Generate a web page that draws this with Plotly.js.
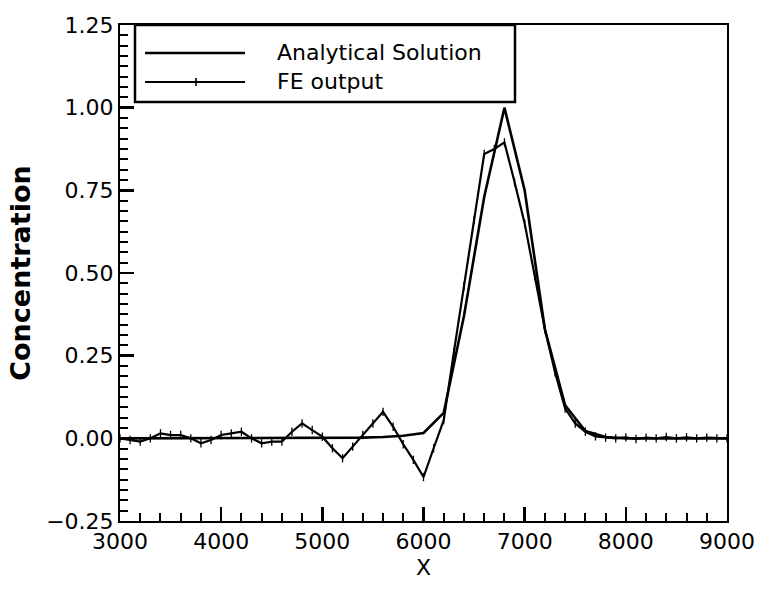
<!DOCTYPE html>
<html>
<head>
<meta charset="utf-8">
<script src="https://cdn.plot.ly/plotly-3.0.1.min.js"></script>
<style>html,body{margin:0;padding:0;background:#fff;}#chart{width:762px;height:590px;}</style>
</head>
<body>
<div id="chart"></div>
<script>
// Analytical solution (x step 200)
var xAnalytical = [3000,3200,3400,3600,3800,4000,4200,4400,4600,4800,5000,5200,5400,5600,5800,6000,6200,6400,6600,6800,7000,7200,7400,7600,7800,8000,8200,8400,8600,8800,9000];
var yAnalytical = [0,0,0,0,0,0,0,0,0,0,0,0.001,0.002,0.004,0.008,0.016,0.077,0.37,0.73,1.0,0.75,0.33,0.1,0.022,0.004,0,0,0,0,0,0];

// FE output (x step 100)
var xFE = [3000,3100,3200,3300,3400,3500,3600,3700,3800,3900,4000,4100,4200,4300,4400,4500,4600,4700,4800,4900,5000,5100,5200,5300,5400,5500,5600,5700,5800,5900,6000,6100,6200,6300,6400,6500,6600,6700,6800,6900,7000,7100,7200,7300,7400,7500,7600,7700,7800,7900,8000,8100,8200,8300,8400,8500,8600,8700,8800,8900,9000];
var yFE = [0,-0.005,-0.01,0,0.015,0.01,0.01,0,-0.015,-0.005,0.01,0.015,0.02,0,-0.015,-0.01,-0.01,0.02,0.045,0.025,0.005,-0.03,-0.06,-0.025,0.01,0.045,0.08,0.035,-0.018,-0.065,-0.117,-0.03,0.055,0.26,0.46,0.66,0.86,0.875,0.895,0.775,0.65,0.49,0.33,0.2,0.09,0.045,0.02,0.006,0.002,0,0.003,-0.002,0.002,0,0.004,0,0.003,0,0.002,0,0];

var legendLabels = ['Analytical Solution', 'FE output'];

var FONT = 'DejaVu Sans, Verdana, sans-serif';

var traces = [
  {x: xAnalytical, y: yAnalytical, mode: 'lines', name: legendLabels[0],
   line: {color: '#000', width: 2.6}, showlegend: false},
  {x: xFE, y: yFE, mode: 'lines+markers', name: legendLabels[1],
   line: {color: '#000', width: 2.2},
   marker: {symbol: 'line-ns', size: 6, color: '#000', line: {color: '#000', width: 1.3}},
   showlegend: false},
  // transparent copy on the overlay axes so that the minor-tick axes are drawn
  {x: xAnalytical, y: yAnalytical, xaxis: 'x2', yaxis: 'y2', mode: 'lines',
   line: {color: 'rgba(0,0,0,0)', width: 0.1}, hoverinfo: 'skip', showlegend: false}
];

// legend drawn in paper space (plot area 120..727 x 25..521 px)
function px(x){ return (x-120)/607; }
function py(y){ return (521-y)/496; }

var layout = {
  width: 762, height: 590,
  margin: {l: 120, r: 35, t: 25, b: 69},
  paper_bgcolor: '#fff', plot_bgcolor: 'rgba(0,0,0,0)',
  font: {family: FONT, color: '#000', size: 22},
  showlegend: false,
  xaxis: {
    range: [3000, 9000], tickmode: 'linear', tick0: 3000, dtick: 1000, tickformat: 'd',
    showgrid: false, zeroline: false,
    showline: true, linecolor: 'black', linewidth: 2, mirror: true,
    ticks: 'inside', ticklen: 14, tickwidth: 2.5, tickcolor: 'black',
    tickfont: {family: FONT, size: 22, color: '#000'},
    title: {text: 'X', font: {family: FONT, size: 22, color: '#000'}, standoff: 6}
  },
  yaxis: {
    range: [-0.25, 1.25], tickmode: 'linear', tick0: -0.25, dtick: 0.25, tickformat: '.2f',
    showgrid: false, zeroline: false,
    showline: true, linecolor: 'black', linewidth: 2, mirror: true,
    ticks: 'inside', ticklen: 14, tickwidth: 2.5, tickcolor: 'black',
    tickfont: {family: FONT, size: 22, color: '#000'},
    title: {text: 'Concentration', font: {family: FONT, size: 27, color: '#000', weight: 'bold'}, standoff: 8}
  },
  // overlay axes used only to draw the minor tick marks
  xaxis2: {
    overlaying: 'x', anchor: 'y2', side: 'bottom',
    range: [3000, 9000], tickmode: 'linear', tick0: 3000, dtick: 200,
    showticklabels: false, showgrid: false, zeroline: false, showline: false,
    ticks: 'inside', ticklen: 8, tickwidth: 2, tickcolor: 'black'
  },
  yaxis2: {
    overlaying: 'y', anchor: 'x2', side: 'left',
    range: [-0.25, 1.25], tickmode: 'linear', tick0: -0.25, dtick: 0.03125,
    showticklabels: false, showgrid: false, zeroline: false, showline: false,
    ticks: 'inside', ticklen: 8, tickwidth: 2, tickcolor: 'black'
  },
  shapes: [
    {type: 'rect', xref: 'paper', yref: 'paper', x0: px(135), x1: px(515), y0: py(102), y1: py(25),
     line: {color: '#000', width: 2.5}, fillcolor: '#fff', layer: 'above'},
    {type: 'line', xref: 'paper', yref: 'paper', x0: px(145), x1: px(245), y0: py(53), y1: py(53),
     line: {color: '#000', width: 2.6}},
    {type: 'line', xref: 'paper', yref: 'paper', x0: px(145), x1: px(245), y0: py(82), y1: py(82),
     line: {color: '#000', width: 2.2}},
    {type: 'line', xref: 'paper', yref: 'paper', x0: px(196), x1: px(196), y0: py(78), y1: py(86),
     line: {color: '#000', width: 1.6}}
  ],
  annotations: [
    {xref: 'paper', yref: 'paper', x: px(275), y: py(53), xanchor: 'left', yanchor: 'middle',
     text: legendLabels[0], showarrow: false, font: {family: FONT, size: 22, color: '#000'}},
    {xref: 'paper', yref: 'paper', x: px(275), y: py(82), xanchor: 'left', yanchor: 'middle',
     text: legendLabels[1], showarrow: false, font: {family: FONT, size: 22, color: '#000'}}
  ]
};

Plotly.newPlot('chart', traces, layout, {displayModeBar: false, staticPlot: true});
</script>
</body>
</html>
